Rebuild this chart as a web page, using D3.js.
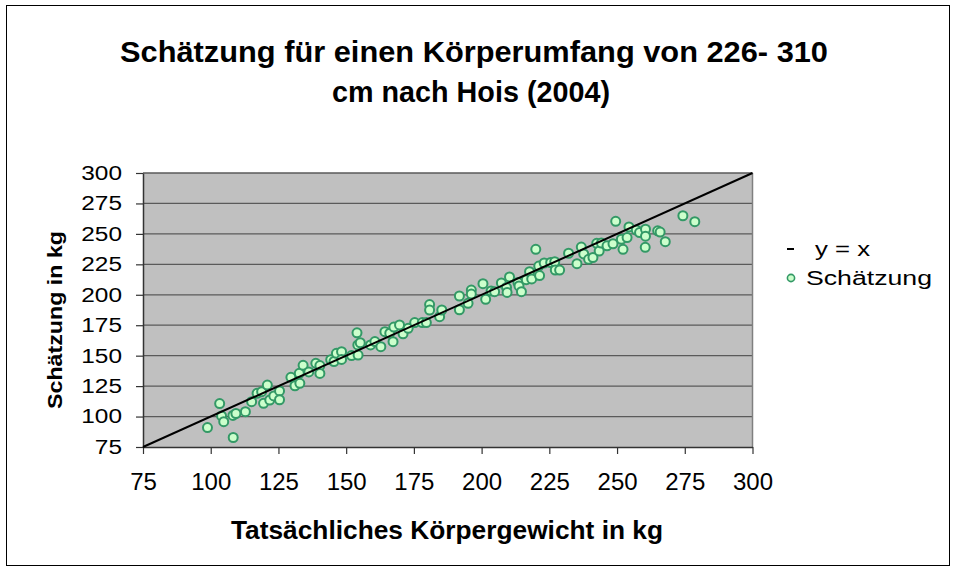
<!DOCTYPE html>
<html>
<head>
<meta charset="utf-8">
<script src="https://cdn.jsdelivr.net/npm/d3@7"></script>
<style>
  body { margin: 0; background: #fff; }
  text { font-family: "Liberation Sans", Arial, sans-serif; fill: #000; }
</style>
</head>
<body>
<div id="chart"></div>
<script>
// title, axis titles, legend
const titleLines = ['Schätzung für  einen Körperumfang von 226- 310', 'cm nach Hois (2004)'];
const xTitle = 'Tatsächliches Körpergewicht in kg';
const yTitle = 'Schätzung in kg';
const seriesNames = ['y = x', 'Schätzung'];

// tick labels (both axes)
const ticks = [75, 100, 125, 150, 175, 200, 225, 250, 275, 300];

const actual = [98.8, 108.3, 103.3, 104.0, 104.8, 108.2, 109.3, 112.8, 115.1, 117.1,
  118.8, 120.9, 119.5, 121.8, 123.3, 125.4, 125.4, 129.6, 131.1, 132.9,
  132.7, 134.1, 136.2, 138.8, 140.3, 140.3, 144.3, 145.5, 146.4, 148.3,
  148.3, 152.0, 154.0, 154.3, 154.4, 155.2, 159.0, 160.6, 162.8, 164.3,
  166.1, 167.3, 167.6, 169.7, 171.0, 172.9, 175.3, 178.1, 179.6, 180.8,
  180.8, 184.5, 185.3, 191.8, 191.8, 195.0, 196.2, 196.2, 200.5, 201.5,
  203.5, 204.8, 207.3, 209.2, 209.4, 210.3, 213.4, 213.8, 214.7, 216.5,
  217.7, 218.5, 220.0, 221.1, 221.4, 223.1, 225.5, 227.0, 227.2, 228.8,
  232.1, 235.2, 236.8, 237.7, 239.5, 241.1, 242.5, 243.4, 244.2, 246.3,
  248.5, 249.5, 251.6, 252.2, 253.7, 254.4, 257.1, 258.3, 260.5, 260.5,
  260.4, 265.0, 265.9, 267.8, 274.3, 278.7];
const estimate = [91.0, 82.8, 110.7, 100.5, 95.8, 100.9, 102.5, 104.0, 112.2, 119.1,
  120.4, 125.9, 110.9, 113.6, 116.9, 121.0, 113.8, 132.2, 125.3, 127.3,
  135.5, 142.1, 136.6, 143.7, 141.9, 135.4, 146.7, 145.2, 151.9, 153.3,
  146.9, 150.1, 168.8, 158.8, 150.5, 160.6, 158.8, 161.6, 157.4, 169.7,
  168.4, 161.5, 173.5, 175.2, 168.0, 172.5, 177.2, 177.2, 177.2, 192.0,
  187.5, 182.0, 187.5, 199.0, 187.7, 193.0, 203.9, 200.6, 209.1, 196.3,
  203.1, 202.5, 209.7, 206.0, 201.9, 214.6, 210.1, 207.2, 202.5, 212.4,
  219.0, 213.0, 237.3, 223.6, 215.8, 226.1, 226.5, 227.2, 220.3, 220.3,
  234.1, 225.5, 239.2, 233.5, 229.1, 230.6, 242.3, 235.9, 242.5, 240.2,
  241.9, 260.3, 245.6, 237.3, 247.0, 255.7, 253.2, 251.1, 253.8, 248.1,
  239.0, 252.5, 251.5, 243.6, 264.9, 260.0];

const W = 956, H = 572;
const svg = d3.select('#chart').append('svg').attr('width', W).attr('height', H);

// outer chart frame
svg.append('rect')
  .attr('x', 6.5).attr('y', 5.5).attr('width', 943).attr('height', 560)
  .attr('fill', '#fff').attr('stroke', '#000').attr('stroke-width', 1);

const x = d3.scaleLinear().domain([75, 300]).range([143, 752.5]);
const y = d3.scaleLinear().domain([75, 300]).range([447, 173]);

// stretch a text node to a given width
function fitWidth(sel, w) {
  sel.attr('textLength', w).attr('lengthAdjust', 'spacingAndGlyphs');
}

// title
svg.append('text')
  .attr('x', 474).attr('y', 62)
  .attr('text-anchor', 'middle')
  .style('font-size', '30px').style('font-weight', 'bold')
  .text(titleLines[0])
  .call(fitWidth, 708);
svg.append('text')
  .attr('x', 471).attr('y', 102)
  .attr('text-anchor', 'middle')
  .style('font-size', '30px').style('font-weight', 'bold')
  .text(titleLines[1])
  .call(fitWidth, 278);

// plot area
svg.append('rect')
  .attr('x', x(75)).attr('y', y(300))
  .attr('width', x(300) - x(75)).attr('height', y(75) - y(300))
  .attr('fill', '#c0c0c0');

svg.append('g').attr('class', 'grid')
  .selectAll('line')
  .data(ticks.filter(d => d > 75))
  .enter().append('line')
  .attr('x1', x(75)).attr('x2', x(300))
  .attr('y1', d => y(d)).attr('y2', d => y(d))
  .style('stroke', '#5a5a5a')
  .style('stroke-width', '1.3px');

// right border of plot area
svg.append('line')
  .attr('x1', x(300)).attr('x2', x(300))
  .attr('y1', y(300)).attr('y2', y(75))
  .style('stroke', '#808080').style('stroke-width', '1.5px');

// axes
const xAxis = svg.append('g')
  .attr('transform', `translate(0,${y(75)})`)
  .call(d3.axisBottom(x).tickValues(ticks).tickSize(7).tickPadding(19).tickSizeOuter(0));
const yAxis = svg.append('g')
  .attr('transform', `translate(${x(75)},0)`)
  .call(d3.axisLeft(y).tickValues(ticks).tickSize(7).tickPadding(14).tickSizeOuter(0));

[xAxis, yAxis].forEach(g => {
  g.select('.domain').style('stroke', '#333').style('stroke-width', '1.5px');
  g.selectAll('.tick line').style('stroke', '#333').style('stroke-width', '1.2px');
  g.selectAll('text').style('font-family', '"Liberation Sans", Arial, sans-serif').attr('fill', '#000');
});
xAxis.selectAll('text').style('font-size', '24px');
yAxis.selectAll('text').style('font-size', '20px')
  .each(function () {
    const len = this.getComputedTextLength();
    d3.select(this).call(fitWidth, len * 1.22);
  });

// points
svg.append('g').attr('class', 'points')
  .selectAll('circle')
  .data(actual.map((a, i) => ({ a: a, e: estimate[i] })))
  .enter().append('circle')
  .attr('cx', d => x(d.a))
  .attr('cy', d => y(d.e))
  .attr('r', 4.5)
  .style('fill', '#ccffcc')
  .style('stroke', '#339966')
  .style('stroke-width', '2px');

// y = x line on top
svg.append('line')
  .attr('x1', x(75)).attr('y1', y(75))
  .attr('x2', x(300)).attr('y2', y(300))
  .style('stroke', '#000').style('stroke-width', '2px');

// axis titles
svg.append('text')
  .attr('x', 447).attr('y', 539)
  .attr('text-anchor', 'middle')
  .style('font-size', '26px').style('font-weight', 'bold')
  .text(xTitle)
  .call(fitWidth, 432);
svg.append('text')
  .attr('transform', 'translate(62,320) rotate(-90)')
  .attr('text-anchor', 'middle')
  .style('font-size', '21px').style('font-weight', 'bold')
  .text(yTitle)
  .call(fitWidth, 178);

// legend
const legend = svg.append('g').attr('class', 'legend');
legend.append('line')
  .attr('x1', 787).attr('x2', 794).attr('y1', 249).attr('y2', 249)
  .style('stroke', '#000').style('stroke-width', '2px');
legend.append('text')
  .attr('x', 815).attr('y', 256)
  .style('font-size', '20px')
  .text(seriesNames[0])
  .call(fitWidth, 55);
legend.append('circle')
  .attr('cx', 791).attr('cy', 278).attr('r', 3.6)
  .style('fill', '#ccffcc').style('stroke', '#339966').style('stroke-width', '1.6px');
legend.append('text')
  .attr('x', 806).attr('y', 285)
  .style('font-size', '20px')
  .text(seriesNames[1])
  .call(fitWidth, 126);
</script>
</body>
</html>
